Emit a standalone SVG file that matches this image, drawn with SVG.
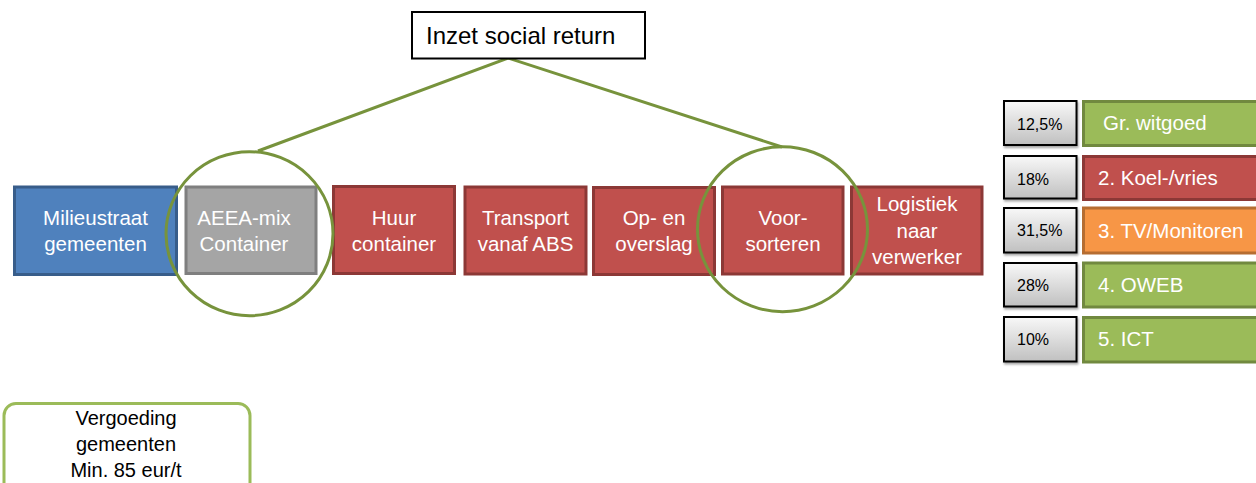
<svg xmlns="http://www.w3.org/2000/svg" width="1256" height="483" viewBox="0 0 1256 483">
<style>
.t{font-family:"Liberation Sans",Arial,sans-serif;}
.w{fill:#fff;font-size:20.5px;text-anchor:middle;}
.blue{fill:#4F81BD;stroke:#385D8A;stroke-width:3;}
.gray{fill:#A5A5A5;stroke:#7F7F7F;stroke-width:3;}
.red{fill:#C0504D;stroke:#8C3836;stroke-width:3;}
.green{fill:#9BBB59;stroke:#71893F;stroke-width:3;}
.orange{fill:#F79646;stroke:#B66D31;stroke-width:3;}
.pct{fill:url(#pg);stroke:#000;stroke-width:2;filter:url(#sh);}
.pt{fill:#000;font-size:16px;}
.bt{fill:#fff;font-size:20.5px;}
.circ{fill:none;stroke:#77933C;stroke-width:3;}
.conn{fill:none;stroke:#77933C;stroke-width:3;}
</style>
<defs>
<linearGradient id="pg" x1="0" y1="0" x2="0" y2="1">
<stop offset="0" stop-color="#F8F8F8"/>
<stop offset="1" stop-color="#C0C0C0"/>
</linearGradient>
<filter id="sh" x="-10%" y="-10%" width="130%" height="140%">
<feDropShadow dx="1" dy="2" stdDeviation="1.2" flood-color="#000" flood-opacity="0.35"/>
</filter>
</defs>
<rect width="1256" height="483" fill="#fff"/>

<g id="connectors">
<path class="conn" d="M258,151 L508,58 L782,147"/>
</g>

<g id="n-inzet">
<rect x="412" y="12" width="233" height="46.5" fill="#fff" stroke="#000" stroke-width="2"/>
<text class="t" x="426" y="44" font-size="24" fill="#000">Inzet social return</text>
</g>

<g id="n-milieustraat">
<rect class="blue" x="14.5" y="187" width="162" height="87.5"/>
<text class="t w" x="95.5" y="225">Milieustraat</text>
<text class="t w" x="95.5" y="251">gemeenten</text>
</g>

<g id="n-aeea">
<rect class="gray" x="186" y="187" width="130" height="86.5"/>
<text class="t w" x="244" y="225">AEEA-mix</text>
<text class="t w" x="244" y="251">Container</text>
</g>

<g id="n-huur">
<rect class="red" x="333.5" y="186.5" width="121" height="87"/>
<text class="t w" x="394" y="224.5">Huur</text>
<text class="t w" x="394" y="251">container</text>
</g>

<g id="n-transport">
<rect class="red" x="465" y="187" width="121" height="87"/>
<text class="t w" x="525.5" y="224.5">Transport</text>
<text class="t w" x="525.5" y="251">vanaf ABS</text>
</g>

<g id="n-op">
<rect class="red" x="593.5" y="187.5" width="121" height="87"/>
<text class="t w" x="654" y="225">Op- en</text>
<text class="t w" x="654" y="251">overslag</text>
</g>

<g id="n-voor">
<rect class="red" x="722.5" y="187" width="120.5" height="87"/>
<text class="t w" x="783" y="225">Voor-</text>
<text class="t w" x="783" y="251">sorteren</text>
</g>

<g id="n-logistiek">
<rect class="red" x="851.5" y="187" width="130.5" height="87"/>
<text class="t w" x="917" y="211">Logistiek</text>
<text class="t w" x="917" y="237.5">naar</text>
<text class="t w" x="917" y="264">verwerker</text>
</g>

<g id="circle-1">
<ellipse class="circ" cx="249.5" cy="233.7" rx="83.5" ry="82"/>
</g>
<g id="circle-2">
<ellipse class="circ" cx="782.5" cy="229.2" rx="85" ry="82.5"/>
</g>

<g id="row-1">
<rect class="pct" x="1004" y="101" width="72.5" height="44"/>
<text class="t pt" x="1017" y="129.5">12,5%</text>
<rect class="green" x="1083.5" y="101.5" width="180" height="44"/>
<text class="t bt" x="1103" y="130">Gr. witgoed</text>
</g>
<g id="row-2">
<rect class="pct" x="1004" y="156" width="72.5" height="42.5"/>
<text class="t pt" x="1017" y="184.5">18%</text>
<rect class="red" x="1083.5" y="156.5" width="180" height="43"/>
<text class="t bt" x="1098" y="185">2. Koel-/vries</text>
</g>
<g id="row-3">
<rect class="pct" x="1004" y="208" width="72.5" height="44.5"/>
<text class="t pt" x="1017" y="236">31,5%</text>
<rect class="orange" x="1083.5" y="208" width="180" height="45"/>
<text class="t bt" x="1098" y="237.5">3. TV/Monitoren</text>
</g>
<g id="row-4">
<rect class="pct" x="1004" y="263" width="72.5" height="43.5"/>
<text class="t pt" x="1017" y="291">28%</text>
<rect class="green" x="1083.5" y="263" width="180" height="44"/>
<text class="t bt" x="1098" y="291.5">4. OWEB</text>
</g>
<g id="row-5">
<rect class="pct" x="1004" y="317" width="72.5" height="44.5"/>
<text class="t pt" x="1017" y="345">10%</text>
<rect class="green" x="1083.5" y="317.5" width="180" height="44.5"/>
<text class="t bt" x="1098" y="346">5. ICT</text>
</g>

<g id="n-vergoeding">
<rect x="4" y="403.5" width="246" height="100" rx="12" fill="#fff" stroke="#9BBB59" stroke-width="3"/>
<text class="t" x="126" y="424.5" font-size="20" fill="#000" text-anchor="middle">Vergoeding</text>
<text class="t" x="126" y="451" font-size="20" fill="#000" text-anchor="middle">gemeenten</text>
<text class="t" x="126" y="477" font-size="20" fill="#000" text-anchor="middle">Min. 85 eur/t</text>
</g>
</svg>
